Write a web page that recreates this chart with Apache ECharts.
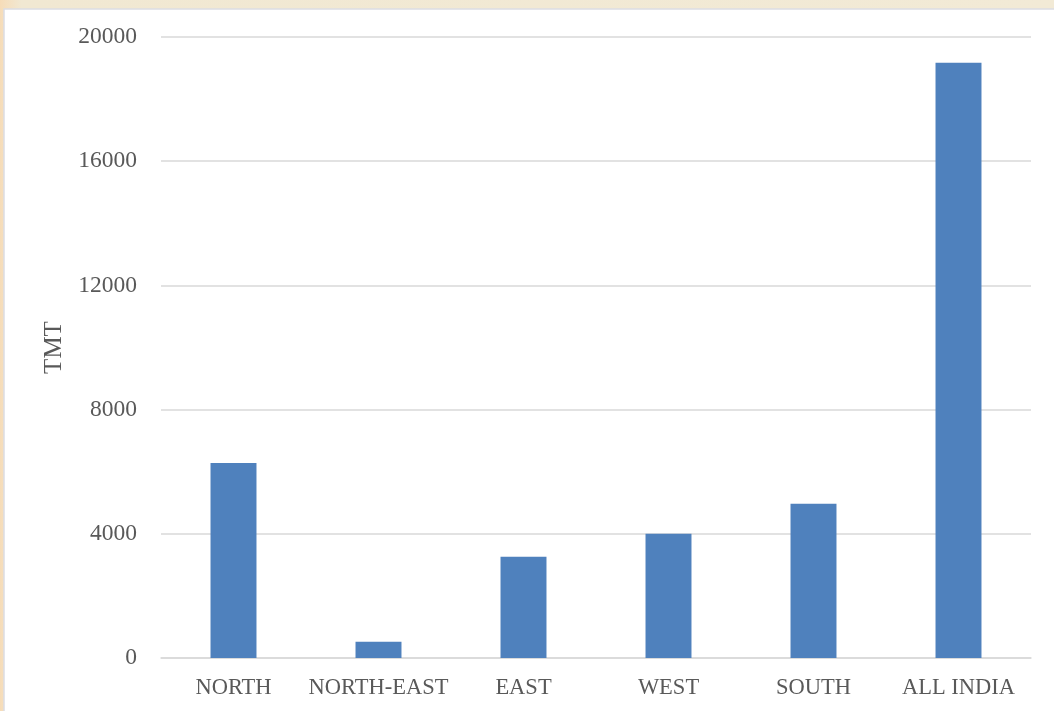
<!DOCTYPE html>
<html>
<head>
<meta charset="utf-8">
<script src="https://cdn.jsdelivr.net/npm/echarts@6/dist/echarts.min.js"></script>
<style>
html,body{margin:0;padding:0;background:#f1e7cf;}
#c{width:1054px;height:711px;}
</style>
</head>
<body>
<div id="c"></div>
<script>
const categories = ['NORTH', 'NORTH-EAST', 'EAST', 'WEST', 'SOUTH', 'ALL INDIA'];
const values = [6280, 520, 3260, 4000, 4970, 19170];
const yTicks = [0, 4000, 8000, 12000, 16000, 20000];
const yName = 'TMT';

const chart = echarts.init(document.getElementById('c'), null, {renderer: 'canvas'});
const font = '"Liberation Serif", "DejaVu Serif", serif';
chart.setOption({
  backgroundColor: {
    type: 'linear', x: 0, y: 0, x2: 1, y2: 0,
    colorStops: [{offset: 0, color: '#f6dcb8'}, {offset: 0.02, color: '#f1e8d2'}, {offset: 1, color: '#f2ead6'}]
  },
  graphic: [{
    type: 'rect', z: -1,
    shape: {x: 4, y: 9, width: 1060, height: 710},
    style: {fill: '#ffffff', stroke: '#dcdde3', lineWidth: 1.5}
  }],
  grid: {left: 161, right: 23, top: 37, bottom: 53, containLabel: false},
  xAxis: {
    type: 'category',
    data: categories,
    axisLine: {show: true, lineStyle: {color: '#d9d9d9', width: 1.5}},
    axisTick: {show: false},
    axisLabel: {color: '#595959', fontFamily: font, fontSize: 22.5, margin: 19, interval: 0}
  },
  yAxis: {
    type: 'value',
    min: yTicks[0], max: yTicks[yTicks.length - 1], interval: 4000,
    name: yName,
    nameLocation: 'middle',
    nameGap: 94,
    nameTextStyle: {color: '#595959', fontFamily: font, fontSize: 25},
    axisLine: {show: false},
    axisTick: {show: false},
    splitLine: {lineStyle: {color: '#d9d9d9', width: 1.5}},
    axisLabel: {color: '#595959', fontFamily: font, fontSize: 23.5, margin: 24,
      padding: [4, 0, 0, 0],
      formatter: v => String(v)}
  },
  series: [{
    type: 'bar',
    data: values,
    barWidth: '31.7%',
    itemStyle: {color: '#4f81bd'}
  }]
});
</script>
</body>
</html>
